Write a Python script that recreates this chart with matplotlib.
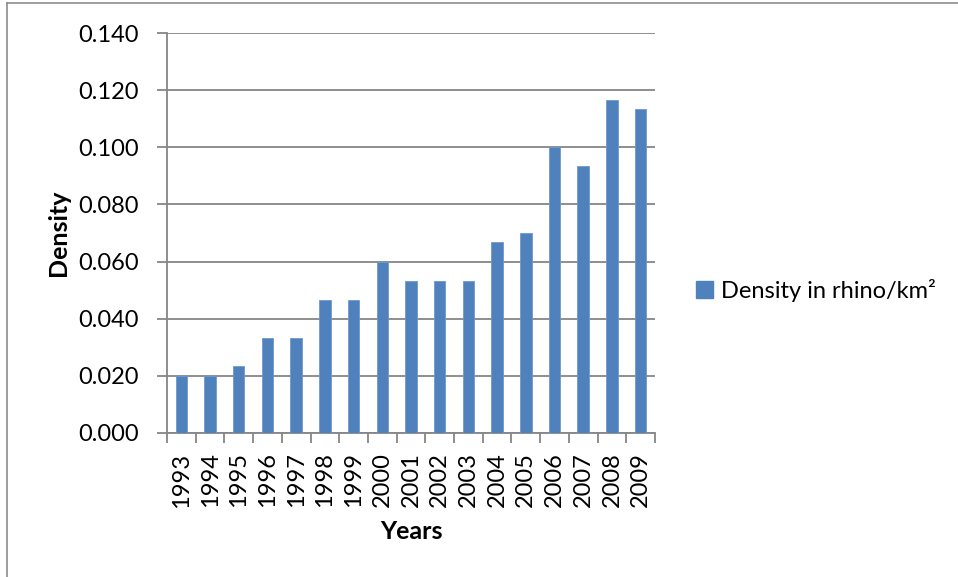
import matplotlib
matplotlib.use("Agg")
import matplotlib.pyplot as plt
from matplotlib.lines import Line2D
from matplotlib.patches import Patch

years = ["1993", "1994", "1995", "1996", "1997", "1998", "1999", "2000", "2001",
         "2002", "2003", "2004", "2005", "2006", "2007", "2008", "2009"]
density = [0.0200, 0.0200, 0.0233, 0.0333, 0.0333, 0.0467, 0.0467, 0.0600, 0.0533,
           0.0533, 0.0533, 0.0667, 0.0700, 0.1000, 0.0933, 0.1167, 0.1133]
y_ticks = [0.000, 0.020, 0.040, 0.060, 0.080, 0.100, 0.120, 0.140]
series_name = "Density in rhino/km²"

plt.rcParams["font.family"] = ["Lato", "DejaVu Sans"]

bar_color = "#4F81BD"
grid_color = "#868686"
tick_fs = 17
label_fs = 18

fig = plt.figure(figsize=(9.58, 5.77), dpi=100)
ax = fig.add_axes([0.1743, 0.2496, 0.5094, 0.6932])

x = list(range(len(years)))
ax.bar(x, density, width=0.4, color=bar_color, edgecolor="#6f98cc", linewidth=0.6, zorder=3)

ax.set_xlim(-0.5, len(years) - 0.5)
ax.set_ylim(0, 0.14)
ax.set_yticks(y_ticks)
ax.set_yticklabels([f"{v:.3f}" for v in y_ticks], fontsize=tick_fs)
ax.set_xticks(x)
ax.set_xticklabels(years, rotation=90, fontsize=tick_fs)
ax.tick_params(axis="x", length=0, pad=14)
ax.tick_params(axis="y", length=7, width=1.3, color=grid_color, pad=13)

# category boundary ticks below the x axis
ax.set_xticks([i - 0.5 for i in range(len(years) + 1)], minor=True)
ax.tick_params(axis="x", which="minor", length=7, width=1.3, color=grid_color)

ax.yaxis.grid(True, color=grid_color, linewidth=1.3, zorder=0)
ax.set_axisbelow(True)
for side in ("top", "right"):
    ax.spines[side].set_visible(False)
for side in ("left", "bottom"):
    ax.spines[side].set_color(grid_color)
    ax.spines[side].set_linewidth(1.3)

ax.set_ylabel("Density", fontsize=label_fs, fontweight="bold", labelpad=6)
ax.set_xlabel("Years", fontsize=label_fs, fontweight="bold", labelpad=9)

handle = Patch(facecolor=bar_color, edgecolor=bar_color)
fig.legend([handle], [series_name], loc="center left", bbox_to_anchor=(0.7265, 0.497),
           frameon=False, fontsize=17, handlelength=0.7, handleheight=0.7,
           handletextpad=0.35, borderpad=0, borderaxespad=0)

# chart frame
fig.add_artist(Line2D([0.0073, 0.0073], [0.0, 0.995], transform=fig.transFigure,
                      color="#8c8c8c", linewidth=1.2))
fig.add_artist(Line2D([0.0073, 1.0], [0.995, 0.995], transform=fig.transFigure,
                      color="#8c8c8c", linewidth=1.2))

fig.savefig("out.png", dpi=100)
